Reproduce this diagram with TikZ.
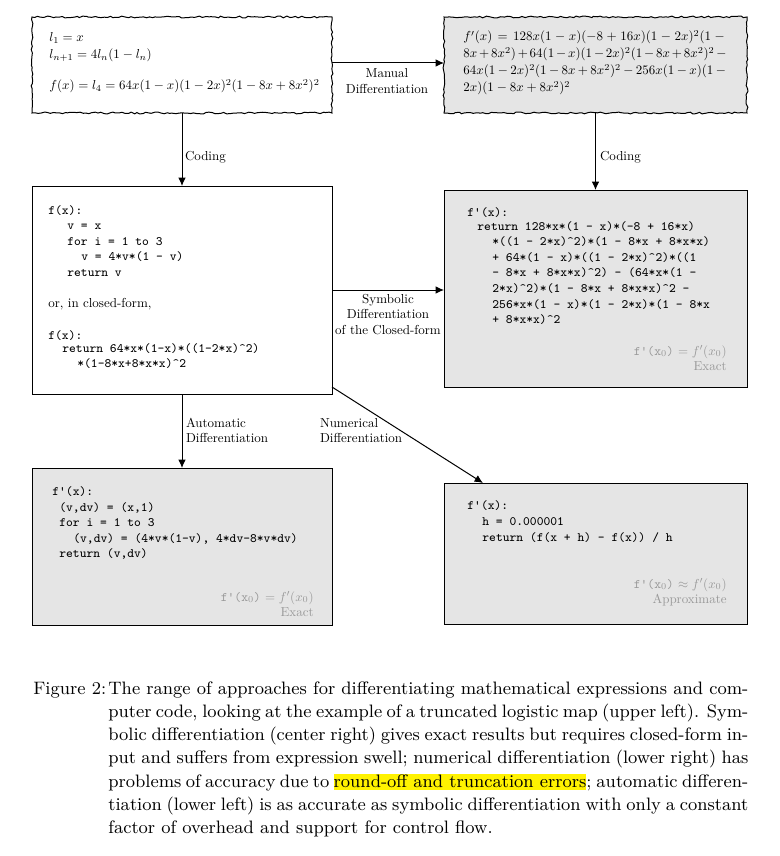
\documentclass[tikz,border=0pt]{standalone}
\usepackage{graphicx}
\usetikzlibrary{arrows.meta,decorations.pathmorphing}
\definecolor{boxfill}{gray}{0.9}
\definecolor{annogray}{gray}{0.6}
\newcommand{\shrinkt}[1]{\scalebox{0.65}{#1}}
\begin{document}
\pgfmathsetseed{7}
\begin{tikzpicture}[x=0.5pt,y=-0.5pt,
  lbl/.style={font=\normalsize, inner sep=0pt, outer sep=0pt},
  codeln/.style={font=\fontsize{6.4}{7.8}\selectfont\ttfamily, inner sep=0pt, anchor=base west},
  mth/.style={font=\normalsize, inner sep=0pt, anchor=base west},
  ann/.style={font=\normalsize, text=annogray, inner sep=0pt, anchor=base east},
  wavybox/.style={draw=black, line width=0.5pt, inner sep=0pt, outer sep=0pt, decorate, decoration={random steps, segment length=1.5pt, amplitude=0.45pt}},
  plainbox/.style={draw=black, line width=0.5pt, inner sep=0pt, outer sep=0pt},
  shaded/.style={fill=boxfill},
  arr/.style={line width=0.5pt, -{Latex[length=4.2pt,width=3.8pt]}}]
\useasboundingbox (0,0) rectangle (780,856);

% boxes
\node[wavybox, minimum width=150pt, minimum height=48pt] (A) at (182,65) {};
\node[wavybox, shaded, minimum width=151.5pt, minimum height=48pt] (B) at (595.5,65) {};
\node[plainbox, minimum width=150pt, minimum height=104pt] (C) at (182,290) {};
\node[plainbox, shaded, minimum width=151.5pt, minimum height=98.5pt] (D) at (595.5,288.5) {};
\node[plainbox, shaded, minimum width=150pt, minimum height=78.5pt] (E) at (182,546.5) {};
\node[plainbox, shaded, minimum width=151.5pt, minimum height=70.5pt] (F) at (595.5,553.5) {};

% box A
\node[mth] (a1) at (49,41.5) {\shrinkt{$l_1 = x$}};
\node[mth] (a2) at (49,58.5) {\shrinkt{$l_{n+1} = 4l_n(1-l_n)$}};
\node[mth] (a3) at (49,90) {\shrinkt{$f(x) = l_4 = 64x(1-x)(1-2x)^2(1-8x+8x^2)^2$}};

% box B
\node[mth] (b1) at (463,41) {\shrinkt{\hbox to 203.8pt{$f'(x) = 128x(1-x)(-8+16x)(1-2x)^2(1-{}$}}};
\node[mth] (b2) at (463,58) {\shrinkt{\hbox to 203.8pt{$8x+8x^2)+64(1-x)(1-2x)^2(1-8x+8x^2)^2-{}$}}};
\node[mth] (b3) at (463,75) {\shrinkt{\hbox to 203.8pt{$64x(1-2x)^2(1-8x+8x^2)^2-256x(1-x)(1-{}$}}};
\node[mth] (b4) at (463,92) {\shrinkt{$2x)(1-8x+8x^2)^2$}};

% box C
\node[codeln] (c1) at (48,214) {f(x):};
\node[codeln] (c2) at (67,229.6) {v = x};
\node[codeln] (c3) at (67,245.2) {for i = 1 to 3};
\node[codeln] (c4) at (81,260.8) {v = 4*v*(1 - v)};
\node[codeln] (c5) at (67,276.4) {return v};
\node[mth] (c6) at (48,307) {\shrinkt{or, in closed-form,}};
\node[codeln] (c7) at (48,339) {f(x):};
\node[codeln] (c8) at (62,352) {return 64*x*(1-x)*((1-2*x)\textasciicircum 2)};
\node[codeln] (c9) at (77,367.6) {*(1-8*x+8*x*x)\textasciicircum 2};

% box D
\node[codeln] (d1) at (467,216) {f'(x):};
\node[codeln] (d2) at (477,230) {return 128*x*(1 - x)*(-8 + 16*x)};
\node[codeln] (d3) at (492,245.6) {*((1 - 2*x)\textasciicircum 2)*(1 - 8*x + 8*x*x)};
\node[codeln] (d4) at (492,261.2) {+ 64*(1 - x)*((1 - 2*x)\textasciicircum 2)*((1};
\node[codeln] (d5) at (492,276.8) {- 8*x + 8*x*x)\textasciicircum 2) - (64*x*(1 -};
\node[codeln] (d6) at (492,292.4) {2*x)\textasciicircum 2)*(1 - 8*x + 8*x*x)\textasciicircum 2 -};
\node[codeln] (d7) at (492,308) {256*x*(1 - x)*(1 - 2*x)*(1 - 8*x};
\node[codeln] (d8) at (492,323.6) {+ 8*x*x)\textasciicircum 2};
\node[ann] (d9) at (727,355) {\shrinkt{\texttt{f'(x$_0$)} $= f'(x_0)$}};
\node[ann] (d10) at (727,370.6) {\shrinkt{Exact}};

% box E
\node[codeln] (e1) at (52,495) {f'(x):};
\node[codeln] (e2) at (59,511) {(v,dv) = (x,1)};
\node[codeln] (e3) at (59,526.6) {for i = 1 to 3};
\node[codeln] (e4) at (73,542.2) {(v,dv) = (4*v*(1-v), 4*dv-8*v*dv)};
\node[codeln] (e5) at (59,557.8) {return (v,dv)};
\node[ann] (e6) at (314,601) {\shrinkt{\texttt{f'(x$_0$)} $= f'(x_0)$}};
\node[ann] (e7) at (314,616.6) {\shrinkt{Exact}};

% box F
\node[codeln] (f1) at (467,509) {f'(x):};
\node[codeln] (f2) at (482,525) {h = 0.000001};
\node[codeln] (f3) at (482,541) {return (f(x + h) - f(x)) / h};
\node[ann] (f4) at (727,588) {\shrinkt{\texttt{f'(x$_0$)} $\approx f'(x_0)$}};
\node[ann] (f5) at (727,603.6) {\shrinkt{Approximate}};

% connectors
\draw[arr] ([yshift=1pt]A.east) -- ([yshift=1pt]B.west);
\draw[arr] (A.south) -- (C.north);
\draw[arr] (B.south) -- (D.north);
\draw[arr] (C.east) -- (C.east -| D.west);
\draw[arr] (C.south) -- (E.north);
\draw[arr] ([yshift=3.5pt]C.south east) -- ([xshift=19.5pt]F.north west);

% connector labels
\node[lbl, anchor=base] (l1) at (387,78) {\shrinkt{Manual}};
\node[lbl, anchor=base] (l2) at (387,93.6) {\shrinkt{Differentiation}};
\node[lbl, anchor=base west] (l3) at (185,160) {\shrinkt{Coding}};
\node[lbl, anchor=base west] (l4) at (600,160) {\shrinkt{Coding}};
\node[lbl, anchor=base] (l5) at (388,303) {\shrinkt{Symbolic}};
\node[lbl, anchor=base] (l6) at (388,318.6) {\shrinkt{Differentiation}};
\node[lbl, anchor=base] (l7) at (388,334.2) {\shrinkt{of the Closed-form}};
\node[lbl, anchor=base west] (l8) at (186,427) {\shrinkt{Automatic}};
\node[lbl, anchor=base west] (l9) at (186,442.6) {\shrinkt{Differentiation}};
\node[lbl, anchor=base west] (l10) at (320,427) {\shrinkt{Numerical}};
\node[lbl, anchor=base west] (l11) at (320,442.6) {\shrinkt{Differentiation}};

% caption
\node[anchor=base west, inner sep=0pt, text width=357.5pt, align=justify,
  font=\fontsize{9}{11.65}\selectfont] (cap) at (33,694)
{\tolerance=10000\hangindent=37.5pt\hangafter=1\noindent
\makebox[37.5pt][l]{Figure 2:}The range of approaches for differentiating mathematical expressions and com-\linebreak
puter code, looking at the example of a truncated logistic map (upper left). Sym-\linebreak
bolic differentiation (center right) gives exact results but requires closed-form in-\linebreak
put and suffers from expression swell; numerical differentiation (lower right) has\linebreak
problems of accuracy due to {\setlength{\fboxsep}{0pt}\colorbox{yellow}{\rule[-1.6pt]{0pt}{8.4pt}round-off and truncation errors}}; automatic differen-\linebreak
tiation (lower left) is as accurate as symbolic differentiation with only a constant\linebreak
factor of overhead and support for control flow.\par};
\end{tikzpicture}
\end{document}
